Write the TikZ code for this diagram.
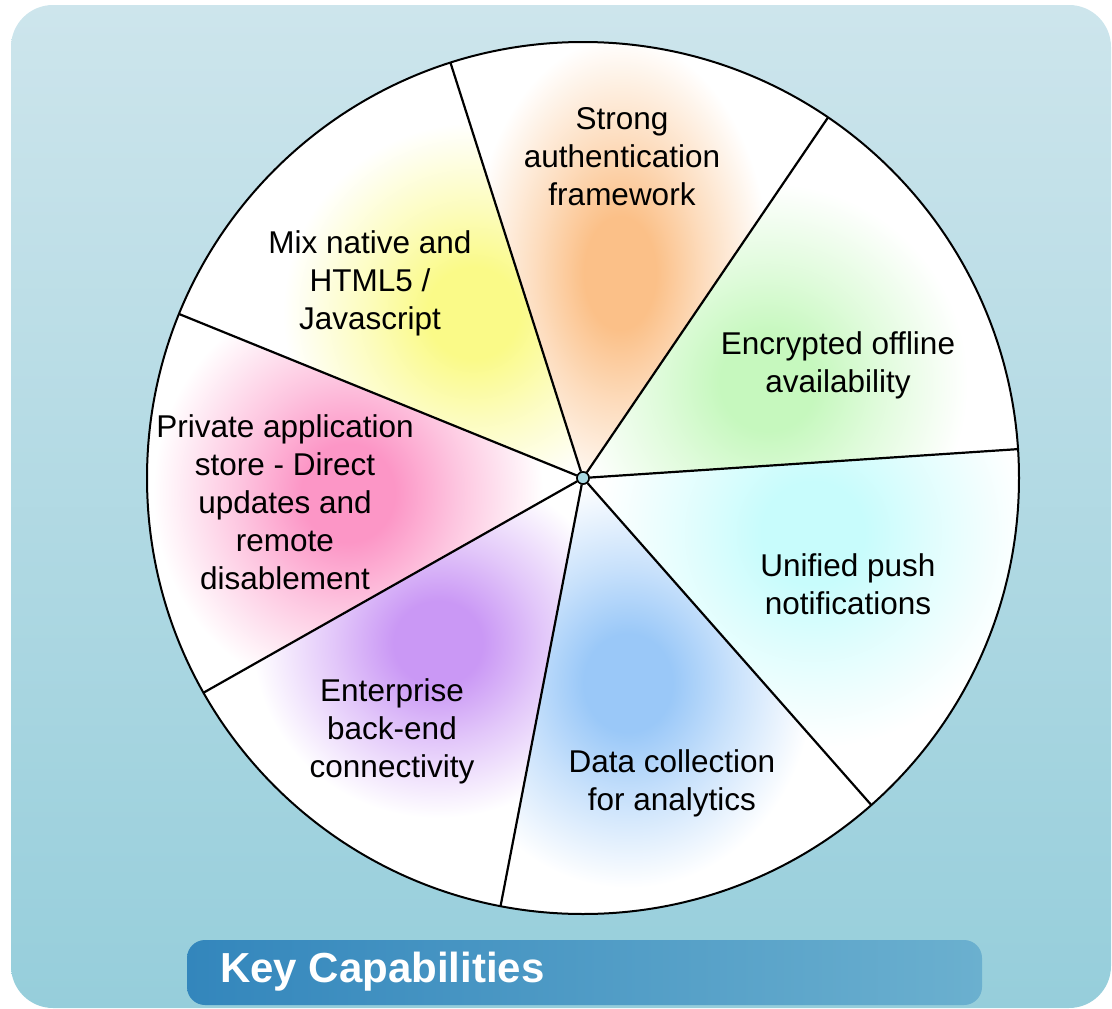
\documentclass[tikz,border=0pt]{standalone}
\usepackage{fontspec}
\setmainfont{Liberation Sans}
\definecolor{bgtop}{HTML}{CDE5EC}
\definecolor{bgbot}{HTML}{96CEDB}
\definecolor{barL}{HTML}{3386BC}
\definecolor{barR}{HTML}{6BB0CF}
\definecolor{hubblue}{HTML}{A8D8E2}
\definecolor{cOrange}{HTML}{FBC088}
\definecolor{cYellow}{HTML}{FAFA88}
\definecolor{cGreen}{HTML}{C6F8BE}
\definecolor{cCyan}{HTML}{C8FCFC}
\definecolor{cBlue}{HTML}{9AC8F8}
\definecolor{cPurple}{HTML}{CA98F5}
\definecolor{cPink}{HTML}{FC96C6}
\newcommand\mkblobshading[1]{%
  \pgfdeclareradialshading{blob#1}{\pgfpoint{0bp}{0bp}}{color(0bp)=(#1); color(6bp)=(#1); color(14bp)=(#1!55!white); color(25bp)=(white); color(50bp)=(white)}}
\mkblobshading{cOrange}
\mkblobshading{cYellow}
\mkblobshading{cGreen}
\mkblobshading{cCyan}
\mkblobshading{cBlue}
\mkblobshading{cPurple}
\mkblobshading{cPink}
\tikzset{
  label/.style={font=\fontsize{31.5}{38}\selectfont, align=center, text=black, inner sep=0pt},
  spoke/.style={line width=2.2pt, black},
}
\begin{document}
\begin{tikzpicture}[x=1pt,y=1pt]
\useasboundingbox (0,0) rectangle (1112,-1009);
% background panel
\shade[top color=bgtop, bottom color=bgbot, rounded corners=42pt] (11,-5) rectangle (1111,-1008);
% wheel
\begin{scope}[shift={(583,-478)}]
  \fill[white] (0,0) circle (436);
  \foreach \a/\b/\col/\bx/\by/\rx/\ry in {
      107.7/55.8/cOrange/37/205/150/235,
      157.9/107.7/cYellow/-110/165/190/190,
      55.8/3.8/cGreen/185/95/200/200,
      3.8/-48.6/cCyan/230/-55/215/215,
      -48.6/-100.9/cBlue/45/-205/185/205,
      -100.9/-150.5/cPurple/-145/-165/185/175,
      -150.5/-202.1/cPink/-235/-15/195/205} {
    \begin{scope}
      \clip (0,0) -- (\a:436) arc[start angle=\a, end angle=\b, radius=436] -- cycle;
      \shade[shading=blob\col] (\bx,\by) ellipse [x radius=\rx, y radius=\ry];
    \end{scope}
  }
  \node[circle, draw, line width=1.5pt, fill=hubblue, minimum size=12pt, inner sep=0pt] (hub) at (0,0) {};
  \foreach \a in {107.7,55.8,3.8,-48.6,-100.9,-150.5,157.9}
    \draw[spoke] (hub) -- (\a:436);
  \draw[line width=2pt] (0,0) circle (436);
  \node[circle, draw, line width=1.5pt, fill=hubblue, minimum size=12pt, inner sep=0pt] at (0,0) {};
\end{scope}
% labels
\node[label] (auth) at (622,-157) {Strong\\authentication\\framework};
\node[label] (mix) at (370,-283) {Mix native and\\HTML5 /\\Javascript};
\node[label] (enc) at (838,-365) {Encrypted offline\\availability};
\node[label] (store) at (285,-502) {Private application\\store - Direct\\updates and\\remote\\disablement};
\node[label] (push) at (848,-584) {Unified push\\notifications};
\node[label] (ent) at (392,-731) {Enterprise\\back-end\\connectivity};
\node[label] (data) at (672,-783) {Data collection\\for analytics};
% title bar
\shade[left color=barL, right color=barR, rounded corners=18pt] (187,-940) rectangle (982,-1005);
\node[anchor=west, inner sep=0pt, text=white, font=\fontsize{42}{48}\selectfont\bfseries] (title) at (220,-972) {Key Capabilities};
\end{tikzpicture}
\end{document}
